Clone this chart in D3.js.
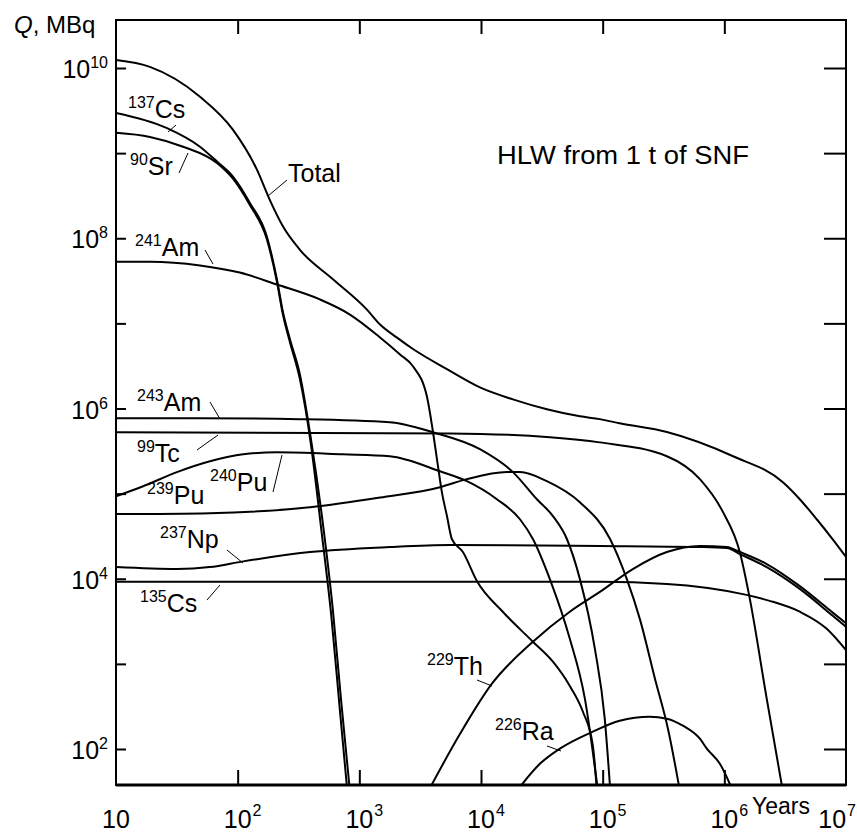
<!DOCTYPE html>
<html>
<head>
<meta charset="utf-8">
<title>HLW from 1 t of SNF</title>
<script src="https://cdn.jsdelivr.net/npm/d3@7"></script>
<style>
	body, html {
		margin: 0;
		padding: 0;
		background: #fff;
	}
	svg text {
		font-family: "Liberation Sans", Arial, sans-serif;
		fill: #000;
	}
	.curve {
		fill: none;
		stroke: #000;
		stroke-width: 2;
		stroke-linejoin: round;
	}
	.frame {
		fill: none;
		stroke: #000;
		stroke-width: 2;
	}
	.tick line {
		stroke: #000;
		stroke-width: 2;
	}
	.leader {
		stroke: #000;
		stroke-width: 1;
	}
</style>
</head>
<body>
<svg id="Chart" width="857" height="833"></svg>

<script type="text/javascript">

	// axis ticks (years, MBq) and their labels as [base, exponent]
	var xTicks = [10, 1e2, 1e3, 1e4, 1e5, 1e6, 1e7];
	var xTickLabels = [["10", ""], ["10", "2"], ["10", "3"], ["10", "4"], ["10", "5"], ["10", "6"], ["10", "7"]];
	var yTicks = [1e2, 1e3, 1e4, 1e5, 1e6, 1e7, 1e8, 1e9, 1e10];
	var yLabelTicks = [1e2, 1e4, 1e6, 1e8, 1e10];
	var yTickLabels = [["10", "2"], ["10", "4"], ["10", "6"], ["10", "8"], ["10", "10"]];

	// activity curves, [years, MBq]
	var total = [[10, 1.24e10], [19, 1.03e10], [49, 4.6e9], [91, 1.9e9], [144, 6.4e8], [184, 2.8e8],
		[236, 1.37e8], [325, 7.3e7], [607, 3.3e7], [1150, 1.46e7], [1480, 9.7e6], [2040, 6.8e6],
		[2760, 5.0e6], [5250, 2.9e6], [9800, 1.77e6], [18300, 1.28e6], [34800, 9.8e5], [65000, 8.1e5],
		[94800, 7.5e5], [138000, 6.7e5], [337000, 5.3e5], [1.18e6, 2.75e5], [3.03e6, 1.36e5],
		[4.17e6, 8.6e4], [5.75e6, 5.0e4], [7.78e6, 2.9e4], [1e7, 1.8e4]];

	var cs137 = [[10, 2.97e9], [26, 1.98e9], [49, 1.19e9], [68, 7.9e8], [91.5, 5.3e8], [126, 2.6e8],
		[174, 1.04e8], [210, 3.3e7], [236, 1.34e7], [269, 6.5e6], [325, 2.5e6], [400, 4.4e5],
		[502, 4.4e4], [607, 4.2e3], [706, 390], [840, 30]];

	var sr90 = [[10, 1.73e9], [19, 1.55e9], [35.6, 1.19e9], [68, 7.6e8], [91.5, 5.0e8], [126, 2.45e8],
		[174, 9.7e7], [210, 3.1e7], [236, 1.25e7], [269, 6.0e6], [325, 2.2e6], [400, 3.8e5],
		[490, 3.5e4], [590, 3.5e3], [690, 300], [800, 30]];

	var am241 = [[10, 5.3e7], [19, 5.3e7], [49, 4.8e7], [104, 3.95e7], [210, 2.86e7], [474, 1.91e7],
		[837, 1.27e7], [1480, 6.84e6], [2160, 4.32e6], [2760, 3.13e6], [3590, 1.39e6], [4030, 5.3e5],
		[4430, 2.1e5], [4770, 1.04e5], [5250, 5.45e4], [5760, 2.93e4], [7100, 2.06e4], [9250, 9.4e3],
		[15100, 4.1e3], [26700, 1.82e3], [39000, 1.06e3], [53700, 550], [68800, 274], [83000, 110],
		[90000, 30]];

	var am243 = [[10, 7.7e5], [49, 7.7e5], [325, 7.5e5], [1780, 6.9e5], [4030, 5.26e5], [9800, 3.33e5],
		[18300, 1.79e5], [28800, 8.6e4], [39000, 5.45e4], [50800, 2.93e4], [65000, 9.9e3],
		[86300, 1.5e3], [104000, 227], [116000, 30]];

	var tc99 = [[10, 5.26e5], [5550, 5.1e5], [36800, 4.6e5], [94800, 4.0e5], [337000, 2.75e5],
		[630000, 1.48e5], [973000, 6.1e4], [1.34e6, 2.06e4], [1.62e6, 5.8e3], [2.23e6, 390],
		[3.05e6, 30]];

	var pu240 = [[10, 9.3e4], [16.7, 1.22e5], [31.7, 1.79e5], [59.2, 2.4e5], [111, 2.9e5], [210, 3.06e5],
		[733, 2.9e5], [1780, 2.75e5], [4600, 1.83e5], [7660, 1.4e5], [13500, 8.6e4], [20900, 5.0e4],
		[26700, 2.93e4], [36800, 9.9e3], [53700, 1.97e3], [71400, 390], [92000, 30]];

	var pu239 = [[10, 5.75e4], [59, 5.9e4], [393, 6.9e4], [1480, 9.0e4], [4600, 1.19e5],
		[7660, 1.48e5], [16300, 1.79e5], [20900, 1.79e5], [34800, 1.4e5], [65000, 7.9e4],
		[115000, 2.93e4], [158000, 9.9e3], [202000, 3.38e3], [269000, 670], [344000, 173],
		[435000, 30]];

	var np237 = [[10, 1.37e4], [31.7, 1.3e4], [59, 1.37e4], [111, 1.6e4], [393, 2.06e4], [1780, 2.36e4],
		[5550, 2.49e4], [94800, 2.43e4], [630000, 2.36e4], [1.05e6, 2.3e4], [1.34e6, 1.95e4],
		[2.23e6, 1.37e4], [4.17e6, 7.6e3], [7.78e6, 3.67e3], [1e7, 2.72e3]];

	var cs135 = [[10, 9.2e3], [94800, 9.2e3], [337000, 8.7e3], [1.42e6, 6.6e3], [2.36e6, 5.5e3],
		[4.17e6, 4.1e3], [6.95e6, 2.58e3], [1e7, 1.45e3]];

	var th229 = [[3600, 30], [6710, 150], [12300, 585], [26700, 1.82e3], [53700, 4.1e3], [94800, 7.0e3],
		[177000, 1.3e4], [337000, 2.06e4], [630000, 2.43e4], [1.05e6, 2.36e4], [1.34e6, 2.06e4],
		[2.23e6, 1.49e4], [4.17e6, 8.2e3], [7.78e6, 4.0e3], [1e7, 3.0e3]];

	var ra226 = [[19000, 30], [30500, 67], [44500, 101], [83000, 160], [138000, 215], [244000, 240],
		[337000, 227], [456000, 188], [630000, 132], [718000, 101], [919000, 67], [1.2e6, 30]];

	var curves = [total, cs137, sr90, am241, am243, tc99, pu240, pu239, np237, cs135, th229, ra226];

	// curve labels: [mass number, symbol]
	var labelTexts = [["137", "Cs"], ["90", "Sr"], ["", "Total"], ["241", "Am"], ["243", "Am"], ["99", "Tc"],
		["239", "Pu"], ["240", "Pu"], ["237", "Np"], ["135", "Cs"], ["229", "Th"], ["226", "Ra"]];

	// where each label sits (pixels), and its leader line
	var labelLayout = [
		{x: 128, y: 118, leader: [168, 132, 176, 125]},
		{x: 130, y: 175, leader: [179, 173, 188, 153]},
		{x: 288, y: 182, leader: [287, 180, 268, 196]},
		{x: 135, y: 256, leader: [205, 250, 213, 264]},
		{x: 137, y: 411, leader: [210, 402, 220, 419]},
		{x: 137, y: 462, leader: [197, 450, 218, 435]},
		{x: 147, y: 504, leader: null},
		{x: 210, y: 491, leader: [273, 492, 282, 455]},
		{x: 160, y: 548, leader: [227, 550, 243, 563]},
		{x: 140, y: 612, leader: [207, 600, 220, 585]},
		{x: 427, y: 675, leader: [477, 680, 492, 686]},
		{x: 495, y: 740, leader: [547, 746, 561, 751]}
	];

	var W = 857, H = 833,
		plotL = 116, plotR = 846, plotT = 20, plotB = 785,
		mainSize = 25, supSize = 16;

	var svg = d3.select("#Chart");

	var x = d3.scaleLog().domain([10, 1e7]).range([plotL, plotR]);
	var y = d3.scaleLog().domain([1e2, 1e10]).range([749, 68]);

	svg.append("clipPath").attr("id", "plotClip")
		.append("rect")
		.attr("x", plotL).attr("y", plotT)
		.attr("width", plotR - plotL).attr("height", plotB - plotT);

	// inward ticks on all four sides
	var inner = xTicks.slice(1, -1);
	svg.append("g").attr("class", "tick")
		.attr("transform", "translate(0," + plotB + ")")
		.call(d3.axisBottom(x).tickValues(inner).tickSize(-15).tickFormat(""));
	svg.append("g").attr("class", "tick")
		.attr("transform", "translate(0," + plotT + ")")
		.call(d3.axisTop(x).tickValues(inner).tickSize(-14).tickFormat(""));
	svg.append("g").attr("class", "tick")
		.attr("transform", "translate(" + plotL + ",0)")
		.call(d3.axisLeft(y).tickValues(yTicks).tickSize(-10).tickFormat(""));
	svg.append("g").attr("class", "tick")
		.attr("transform", "translate(" + plotR + ",0)")
		.call(d3.axisRight(y).tickValues(yTicks).tickSize(-22).tickFormat(""));
	svg.selectAll(".domain").remove();

	svg.append("rect").attr("class", "frame")
		.attr("x", plotL).attr("y", plotT)
		.attr("width", plotR - plotL).attr("height", plotB - plotT);
	svg.append("line")
		.attr("x1", plotL).attr("x2", plotR)
		.attr("y1", plotB).attr("y2", plotB)
		.attr("stroke", "#000").attr("stroke-width", 3);

	// x tick labels: "10" centred on the tick, exponent after it (kept inside the page)
	xTicks.forEach(function(v, i) {
		var base = svg.append("text")
			.attr("y", 828)
			.attr("text-anchor", "middle")
			.style("font-size", mainSize + "px")
			.text(xTickLabels[i][0]);
		var w = base.node().getComputedTextLength();
		var cx = x(v);
		if (xTickLabels[i][1]) {
			var sup = svg.append("text")
				.attr("y", 816)
				.style("font-size", supSize + "px")
				.text(xTickLabels[i][1]);
			var sw = sup.node().getComputedTextLength();
			if (cx + w / 2 + sw + 2 > W) cx = W - 2 - sw - w / 2;
			sup.attr("x", cx + w / 2 + 1);
		}
		base.attr("x", cx);
	});

	// y tick labels, right aligned
	yLabelTicks.forEach(function(v, i) {
		var t = svg.append("text")
			.attr("x", 108).attr("y", y(v) + 10)
			.attr("text-anchor", "end")
			.style("font-size", mainSize + "px");
		t.append("tspan").text(yTickLabels[i][0]);
		t.append("tspan").attr("dy", -10).style("font-size", supSize + "px").text(yTickLabels[i][1]);
	});

	var q = svg.append("text").attr("x", 14).attr("y", 33).style("font-size", "24px");
	q.append("tspan").style("font-style", "italic").text("Q");
	q.append("tspan").text(", MBq");

	svg.append("text").attr("x", 752).attr("y", 814)
		.style("font-size", "23px").text("Years");

	svg.append("text").attr("x", 497).attr("y", 164)
		.style("font-size", "25px")
		.attr("textLength", 252).attr("lengthAdjust", "spacingAndGlyphs")
		.text("HLW from 1 t of SNF");

	var line = d3.line()
		.x(function(d) { return x(d[0]); })
		.y(function(d) { return y(d[1]); })
		.curve(d3.curveMonotoneX);

	svg.append("g").attr("clip-path", "url(#plotClip)")
		.selectAll("path")
		.data(curves)
		.enter().append("path")
		.attr("class", "curve")
		.attr("d", line);

	labelTexts.forEach(function(lt, i) {
		var pos = labelLayout[i];
		var t = svg.append("text").attr("x", pos.x).attr("y", pos.y);
		if (lt[0]) {
			t.append("tspan").attr("dy", -10).style("font-size", supSize + "px").text(lt[0]);
			t.append("tspan").attr("dy", 10).style("font-size", mainSize + "px").text(lt[1]);
		} else {
			t.append("tspan").style("font-size", "25px").text(lt[1]);
		}
		if (pos.leader) {
			svg.append("line").attr("class", "leader")
				.attr("x1", pos.leader[0]).attr("y1", pos.leader[1])
				.attr("x2", pos.leader[2]).attr("y2", pos.leader[3]);
		}
	});

</script>
</body>
</html>
